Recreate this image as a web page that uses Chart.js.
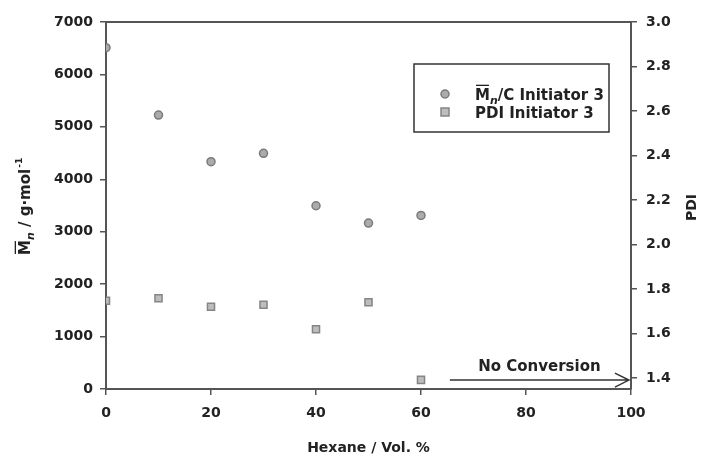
<!DOCTYPE html>
<html>
<head>
<meta charset="utf-8">
<script src="https://cdn.jsdelivr.net/npm/chart.js@4"></script>
<style>
  html, body { margin: 0; padding: 0; background: #fff; }
  canvas { display: block; }
</style>
</head>
<body>
<canvas id="grafico" width="704" height="459"></canvas>
<script>
// datos
const hexano = [0, 10, 20, 30, 40, 50, 60];
const mnValores = [6510, 5225, 4335, 4495, 3495, 3165, 3310];
const pdiValores = [1.747, 1.758, 1.720, 1.729, 1.619, 1.740, 1.391];

const xTicks = [0, 20, 40, 60, 80, 100];
const mnTicks = [0, 1000, 2000, 3000, 4000, 5000, 6000, 7000];
const pdiTicks = [1.4, 1.6, 1.8, 2.0, 2.2, 2.4, 2.6, 2.8, 3.0];

const flechaTexto = 'No Conversion';
const flechaDesde = 65.5;   // Vol. %
const flechaHasta = 99.6;
const flechaPdi = 1.39;

const FUENTE = '"DejaVu Sans", sans-serif';
const COLOR_TEXTO = '#222';
const COLOR_EJE = '#555';

// dibuja M con barra y n en subindice; devuelve el ancho usado
function dibujarMn(ctx, x, y, size) {
  ctx.font = `bold ${size}px ${FUENTE}`;
  ctx.textBaseline = 'alphabetic';
  ctx.textAlign = 'left';
  ctx.fillText('M', x, y);
  const wM = ctx.measureText('M').width;
  ctx.save();
  ctx.fillStyle = COLOR_TEXTO;
  // barra sobre la M
  ctx.fillRect(x + 1, y - size * 1.02, wM - 2, 1.3);
  ctx.restore();
  ctx.font = `italic bold ${Math.round(size * 0.7)}px ${FUENTE}`;
  ctx.fillText('n', x + wM, y + size * 0.25);
  return wM + ctx.measureText('n').width;
}

const pluginExtras = {
  id: 'extras',
  afterDraw(chart) {
    const ctx = chart.ctx;
    const area = chart.chartArea;
    const sx = chart.scales.x;
    const sy1 = chart.scales.y1;

    // linea superior del marco
    ctx.save();
    ctx.strokeStyle = COLOR_EJE;
    ctx.lineWidth = 2;
    ctx.beginPath();
    ctx.moveTo(area.left, area.top);
    ctx.lineTo(area.right, area.top);
    ctx.stroke();

    // flecha "No Conversion"
    const x0 = sx.getPixelForValue(flechaDesde);
    const x1 = sx.getPixelForValue(flechaHasta);
    const yf = sy1.getPixelForValue(flechaPdi);
    ctx.strokeStyle = '#333';
    ctx.lineWidth = 1.5;
    ctx.beginPath();
    ctx.moveTo(x0, yf);
    ctx.lineTo(x1, yf);
    ctx.moveTo(x1 - 14, yf - 7);
    ctx.lineTo(x1, yf);
    ctx.lineTo(x1 - 14, yf + 7);
    ctx.stroke();
    ctx.fillStyle = COLOR_TEXTO;
    ctx.font = `bold 15px ${FUENTE}`;
    ctx.textAlign = 'center';
    ctx.textBaseline = 'alphabetic';
    ctx.fillText(flechaTexto, (x0 + x1) / 2, yf - 9);

    // titulo eje x
    ctx.font = `bold 14px ${FUENTE}`;
    ctx.textBaseline = 'middle';
    ctx.fillText('Hexane / Vol. %', (area.left + area.right) / 2, 448);

    // titulo eje derecho
    ctx.save();
    ctx.translate(692, (area.top + area.bottom) / 2 + 2);
    ctx.rotate(-Math.PI / 2);
    ctx.fillText('PDI', 0, 0);
    ctx.restore();

    // titulo eje izquierdo
    ctx.save();
    ctx.translate(30, 255);
    ctx.rotate(-Math.PI / 2);
    let cx = 0;
    cx += dibujarMn(ctx, cx, 0, 15);
    ctx.font = `bold 15px ${FUENTE}`;
    ctx.fillText(' / g·mol', cx, 0);
    cx += ctx.measureText(' / g·mol').width;
    ctx.font = `bold 9px ${FUENTE}`;
    ctx.fillText('-1', cx + 1, -8);
    ctx.restore();

    // leyenda
    const lx = 414, ly = 64, lw = 195, lh = 68;
    ctx.strokeStyle = '#333';
    ctx.lineWidth = 1.5;
    ctx.strokeRect(lx, ly, lw, lh);
    const ds = chart.data.datasets;
    ctx.fillStyle = ds[0].backgroundColor;
    ctx.strokeStyle = ds[0].borderColor;
    ctx.lineWidth = ds[0].borderWidth;
    ctx.beginPath();
    ctx.arc(445, 94, ds[0].pointRadius, 0, Math.PI * 2);
    ctx.fill();
    ctx.stroke();
    ctx.fillStyle = ds[1].backgroundColor;
    ctx.strokeStyle = ds[1].borderColor;
    ctx.lineWidth = ds[1].borderWidth;
    ctx.fillRect(441, 108, 8, 8);
    ctx.strokeRect(441, 108, 8, 8);

    ctx.fillStyle = COLOR_TEXTO;
    let tx = 475;
    tx += dibujarMn(ctx, tx, 100, 15);
    ctx.font = `bold 15px ${FUENTE}`;
    ctx.fillText('/C Initiator 3', tx, 100);
    ctx.fillText('PDI Initiator 3', 475, 118);
    ctx.restore();
  }
};

const ejeComun = {
  grid: { display: true, drawOnChartArea: false, drawTicks: true, tickLength: 6, color: COLOR_EJE, lineWidth: 1.5 },
  border: { display: true, color: COLOR_EJE, width: 2 },
};

new Chart(document.getElementById('grafico'), {
  type: 'scatter',
  data: {
    datasets: [{
      label: 'Mn/C Initiator 3',
      data: hexano.map((x, i) => ({ x: x, y: mnValores[i] })),
      yAxisID: 'y',
      pointStyle: 'circle',
      pointRadius: 4,
      backgroundColor: '#ababab',
      borderColor: '#7a7a7a',
      borderWidth: 1.5
    }, {
      label: 'PDI Initiator 3',
      data: hexano.map((x, i) => ({ x: x, y: pdiValores[i] })),
      yAxisID: 'y1',
      pointStyle: 'rect',
      pointRadius: 5,
      backgroundColor: '#bdbdbd',
      borderColor: '#858585',
      borderWidth: 1.5
    }]
  },
  options: {
    responsive: false,
    animation: false,
    layout: { padding: { top: 22, left: 0, right: 0, bottom: 0 } },
    plugins: {
      legend: { display: false },
      tooltip: { enabled: false }
    },
    scales: {
      x: {
        ...ejeComun,
        type: 'linear',
        min: 0,
        max: 100,
        afterBuildTicks: s => { s.ticks = xTicks.map(v => ({ value: v })); },
        afterFit: s => { s.height = 70; },
        ticks: { color: COLOR_TEXTO, padding: 10, maxRotation: 0, font: { family: FUENTE, size: 14, weight: 'bold' } }
      },
      y: {
        ...ejeComun,
        position: 'left',
        min: 0,
        max: 7000,
        afterBuildTicks: s => { s.ticks = mnTicks.map(v => ({ value: v })); },
        afterFit: s => { s.width = 106; },
        ticks: { color: COLOR_TEXTO, padding: 7, font: { family: FUENTE, size: 14, weight: 'bold' }, callback: v => String(v) }
      },
      y1: {
        ...ejeComun,
        position: 'right',
        min: 1.35,
        max: 3.0,
        afterBuildTicks: s => { s.ticks = pdiTicks.map(v => ({ value: v })); },
        afterFit: s => { s.width = 73; },
        ticks: {
          color: COLOR_TEXTO,
          padding: 9,
          font: { family: FUENTE, size: 14, weight: 'bold' },
          callback: v => v.toFixed(1)
        }
      }
    }
  },
  plugins: [pluginExtras]
});
</script>
</body>
</html>
